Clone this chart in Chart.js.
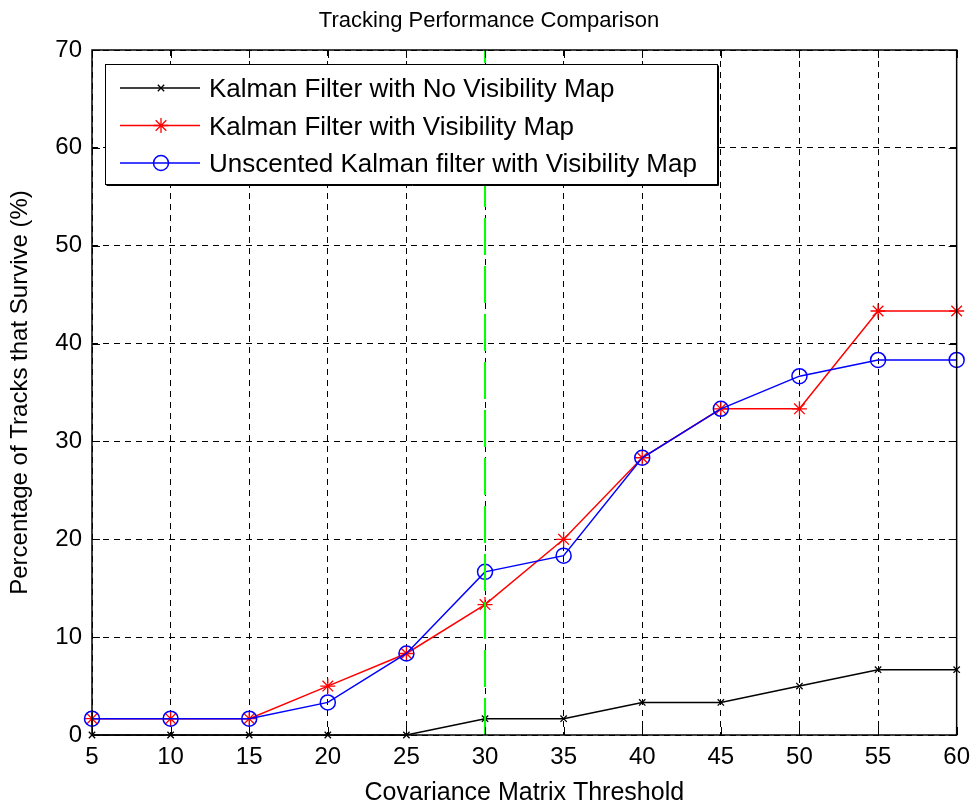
<!DOCTYPE html>
<html>
<head>
<meta charset="utf-8">
<script src="https://cdn.jsdelivr.net/npm/chart.js@4/dist/chart.umd.min.js"></script>
<style>
  body { margin: 0; background: #fff; }
  #wrap { width: 978px; height: 809px; }
</style>
</head>
<body>
<div id="wrap"><canvas id="grafico-tracking" width="978" height="809"></canvas></div>
<script>
// umbral de la matriz de covarianza
const thresholds = [5, 10, 15, 20, 25, 30, 35, 40, 45, 50, 55, 60];
// % de tracks que sobreviven, una lista por filtro
const kfNoMap = [0, 0, 0, 0, 0, 1.67, 1.67, 3.33, 3.33, 5, 6.67, 6.67];
const kfMap = [1.67, 1.67, 1.67, 5, 8.33, 13.33, 20, 28.33, 33.33, 33.33, 43.33, 43.33];
const ukfMap = [1.67, 1.67, 1.67, 3.33, 8.33, 16.67, 18.33, 28.33, 33.33, 36.67, 38.33, 38.33];
const seriesLabels = [
    'Kalman Filter with No Visibility Map',
    'Kalman Filter with Visibility Map',
    'Unscented Kalman filter with Visibility Map'
];
const markerLine = 30;   // linea vertical verde
const yTicks = [0, 10, 20, 30, 40, 50, 60, 70];

const FONT = '"Liberation Sans", Arial, sans-serif';

function pts(vals) {
    return vals.map((v, i) => ({ x: thresholds[i], y: v }));
}

// marco de ejes + marcas hacia dentro (estilo matlab)
const axesFrame = {
    id: 'axesFrame',
    afterDatasetsDraw(chart) {
        const { ctx, chartArea: a, scales: { x, y } } = chart;
        ctx.save();
        ctx.strokeStyle = '#000';
        ctx.lineWidth = 1;
        ctx.beginPath();
        x.ticks.forEach(t => {
            const px = Math.round(x.getPixelForValue(t.value)) + 0.5;
            ctx.moveTo(px, a.bottom); ctx.lineTo(px, a.bottom - 8);
            ctx.moveTo(px, a.top); ctx.lineTo(px, a.top + 8);
        });
        y.ticks.forEach(t => {
            const py = Math.round(y.getPixelForValue(t.value)) + 0.5;
            ctx.moveTo(a.left, py); ctx.lineTo(a.left + 8, py);
            ctx.moveTo(a.right, py); ctx.lineTo(a.right - 8, py);
        });
        ctx.stroke();
        ctx.lineWidth = 1.5;
        ctx.strokeRect(a.left, a.top, a.right - a.left, a.bottom - a.top);
        ctx.restore();
    }
};

// leyenda con caja dentro del area del grafico
const boxLegend = {
    id: 'boxLegend',
    afterDatasetsDraw(chart) {
        const ctx = chart.ctx;
        const items = chart.data.datasets.filter(d => d.label);
        const left = 105, top = 64, w = 612, h = 120;
        ctx.save();
        ctx.fillStyle = '#fff';
        ctx.fillRect(left, top, w, h);
        ctx.strokeStyle = '#000';
        ctx.lineWidth = 1;
        ctx.strokeRect(left + 0.5, top + 0.5, w, h);
        ctx.beginPath();
        ctx.moveTo(left + 1.5, top + h + 1.5); ctx.lineTo(left + w + 1.5, top + h + 1.5); ctx.lineTo(left + w + 1.5, top + 1.5);
        ctx.stroke();
        ctx.font = '26px ' + FONT;
        ctx.textBaseline = 'middle';
        items.forEach((ds, i) => {
            const yy = top + 24 + i * 37.5;
            ctx.strokeStyle = ds.borderColor;
            ctx.lineWidth = ds.borderWidth;
            ctx.beginPath();
            ctx.moveTo(left + 15, yy); ctx.lineTo(left + 95, yy);
            ctx.stroke();
            ctx.fillStyle = ds.pointBackgroundColor || 'rgba(0,0,0,0)';
            ctx.lineWidth = ds.pointBorderWidth || 1;
            Chart.helpers.drawPoint(ctx, {
                pointStyle: ds.pointStyle, radius: ds.pointRadius,
                borderWidth: ds.pointBorderWidth || 1, rotation: 0
            }, left + 56, yy);
            ctx.fillStyle = '#000';
            ctx.fillText(ds.label, left + 104, yy + 2);
        });
        ctx.restore();
    }
};

const chart = new Chart(document.getElementById('grafico-tracking'), {
    type: 'line',
    data: {
        datasets: [
            {
                label: '', data: [{ x: markerLine, y: 0 }, { x: markerLine, y: 70 }],
                borderColor: '#00ff00', borderWidth: 2, borderDash: [37, 11],
                pointRadius: 0, order: 0
            },
            {
                label: seriesLabels[0], data: pts(kfNoMap),
                borderColor: '#000', borderWidth: 1.5,
                pointStyle: 'crossRot', pointRadius: 4.5, pointBorderWidth: 1.3,
                pointBorderColor: '#000', pointBackgroundColor: 'rgba(0,0,0,0)', order: 3
            },
            {
                label: seriesLabels[1], data: pts(kfMap),
                borderColor: '#ff0000', borderWidth: 1.5,
                pointStyle: 'star', pointRadius: 7.5, pointBorderWidth: 1.3,
                pointBorderColor: '#ff0000', pointBackgroundColor: 'rgba(0,0,0,0)', order: 2
            },
            {
                label: seriesLabels[2], data: pts(ukfMap),
                borderColor: '#0000ff', borderWidth: 1.5,
                pointStyle: 'circle', pointRadius: 7.5, pointBorderWidth: 1.5,
                pointBorderColor: '#0000ff', pointBackgroundColor: 'rgba(0,0,0,0)', order: 1
            }
        ]
    },
    options: {
        responsive: false,
        animation: false,
        clip: false,
        elements: { line: { tension: 0 } },
        plugins: {
            legend: { display: false },
            tooltip: { enabled: false },
            title: {
                display: true, text: 'Tracking Performance Comparison', color: '#000',
                font: { family: FONT, size: 22, weight: 'normal' },
                padding: { top: 8, bottom: 15.6 }
            }
        },
        scales: {
            x: {
                type: 'linear', min: 5, max: 60,
                afterFit: s => { s.height = 74; },
                ticks: { stepSize: 5, color: '#000', padding: 8, font: { family: FONT, size: 24 } },
                grid: { color: '#000', lineWidth: 1, drawTicks: false },
                border: { display: false, dash: [6, 5] },
                title: {
                    display: true, text: 'Covariance Matrix Threshold', color: '#000',
                    font: { family: FONT, size: 25 }, padding: { top: 0, bottom: 1 }
                }
            },
            y: {
                min: 0, max: 70,
                afterFit: s => { s.width = 92; },
                afterBuildTicks: s => { s.ticks = yTicks.map(v => ({ value: v })); },
                ticks: { color: '#000', padding: 10, font: { family: FONT, size: 24 } },
                grid: { color: '#000', lineWidth: 1, drawTicks: false },
                border: { display: false, dash: [6, 5] },
                title: {
                    display: true, text: 'Percentage of Tracks that Survive (%)', color: '#000',
                    font: { family: FONT, size: 24 }, padding: { top: 6, bottom: 0 }
                }
            },
            // margen derecho vacio
            yRight: {
                position: 'right',
                afterFit: s => { s.width = 16; },
                ticks: { display: false },
                grid: { display: false },
                border: { display: false }
            }
        }
    },
    plugins: [axesFrame, boxLegend]
});
</script>
</body>
</html>
